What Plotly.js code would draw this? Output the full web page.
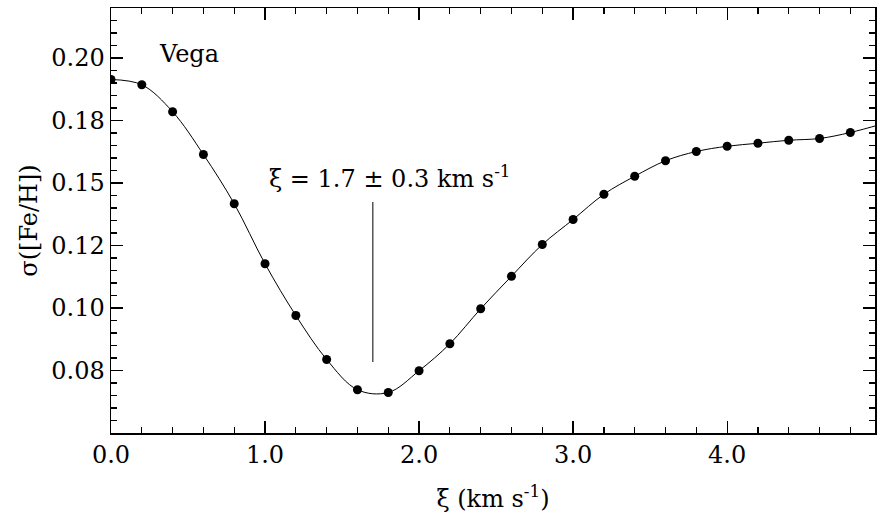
<!DOCTYPE html>
<html>
<head>
<meta charset="utf-8">
<script src="https://cdn.plot.ly/plotly-3.0.1.min.js"></script>
<style>html,body{margin:0;padding:0;background:#fff}#chart{width:877px;height:518px}</style>
</head>
<body>
<div id="chart"></div>
<script>
// Microturbulence xi (km/s) and dispersion sigma([Fe/H])
const xi = [0.0, 0.2, 0.4, 0.6, 0.8, 1.0, 1.2, 1.4, 1.6, 1.8, 2.0, 2.2, 2.4, 2.6, 2.8, 3.0, 3.2, 3.4, 3.6, 3.8, 4.0, 4.2, 4.4, 4.6, 4.8];
const sigma = [0.1914, 0.1893, 0.1785, 0.1614, 0.1417, 0.1177, 0.0970, 0.0794, 0.0673, 0.0662, 0.0749, 0.0857, 0.0997, 0.1127, 0.1254, 0.1354, 0.1455, 0.1527, 0.1589, 0.1626, 0.1647, 0.1659, 0.1671, 0.1678, 0.1702];
// smooth fitted curve continues slightly past the last point
const curveX = xi.concat([5.0]);
const curveY = sigma.concat([0.1735]);
// y tick positions and their printed labels
const yTickVals = [0.075, 0.1, 0.125, 0.15, 0.175, 0.2];
const yTickText = ["0.08", "0.10", "0.12", "0.15", "0.18", "0.20"];
const xTickVals = [0, 1, 2, 3, 4];
const xTickText = ["0.0", "1.0", "2.0", "3.0", "4.0"];
// best value marker
const xiBest = 1.7;
const markLow = 0.0784;
const markHigh = 0.1424;
const starName = "Vega";
const bestLabel = "ξ = 1.7 ± 0.3 km s<sup>-1</sup>";

const FONT = "DejaVu Serif, serif";

const traces = [
  {x: curveX, y: curveY, mode: "lines", line: {shape: "spline", smoothing: 1, color: "#000", width: 1}, hoverinfo: "skip", showlegend: false},
  {x: xi, y: sigma, mode: "markers", marker: {color: "#000", size: 9}, showlegend: false}
];

const axisCommon = {
  showgrid: false, zeroline: false, showline: true, linecolor: "#000", linewidth: 1.5,
  mirror: "allticks", ticks: "inside", ticklen: 12, tickwidth: 1.2, tickcolor: "#000",
  tickfont: {family: FONT, size: 24, color: "#000"}, automargin: true
};

const layout = {
  width: 877, height: 518,
  margin: {l: 111, r: 0, t: 7.5, b: 85},
  paper_bgcolor: "#fff", plot_bgcolor: "#fff",
  font: {family: FONT, color: "#000"},
  xaxis: Object.assign({}, axisCommon, {
    range: [0, 4.96], tickmode: "array", tickvals: xTickVals, ticktext: xTickText,
    minor: {dtick: 0.2, tick0: 0, ticks: "inside", ticklen: 6, tickwidth: 1.2, tickcolor: "#000", showgrid: false},
    title: {text: "ξ (km s<sup>-1</sup>)", font: {family: FONT, size: 24, color: "#000"}, standoff: 22}
  }),
  yaxis: Object.assign({}, axisCommon, {
    range: [0.05, 0.22], tickmode: "array", tickvals: yTickVals, ticktext: yTickText,
    minor: {dtick: 0.005, tick0: 0, ticks: "inside", ticklen: 6, tickwidth: 1.2, tickcolor: "#000", showgrid: false},
    title: {text: "σ([Fe/H])", font: {family: FONT, size: 24, color: "#000"}, standoff: 7}
  }),
  shapes: [
    {type: "line", xref: "x", yref: "y", x0: xiBest, x1: xiBest, y0: markLow, y1: markHigh, line: {color: "#000", width: 1}}
  ],
  annotations: [
    {x: 0.3, y: 0.2015, xref: "x", yref: "y", text: starName, showarrow: false, xanchor: "left", yanchor: "middle", font: {family: FONT, size: 24, color: "#000"}},
    {x: 1.81, y: 0.1525, xref: "x", yref: "y", text: bestLabel, showarrow: false, xanchor: "center", yanchor: "middle", font: {family: FONT, size: 24, color: "#000"}}
  ]
};

Plotly.newPlot("chart", traces, layout, {displayModeBar: false, staticPlot: true});
</script>
</body>
</html>
